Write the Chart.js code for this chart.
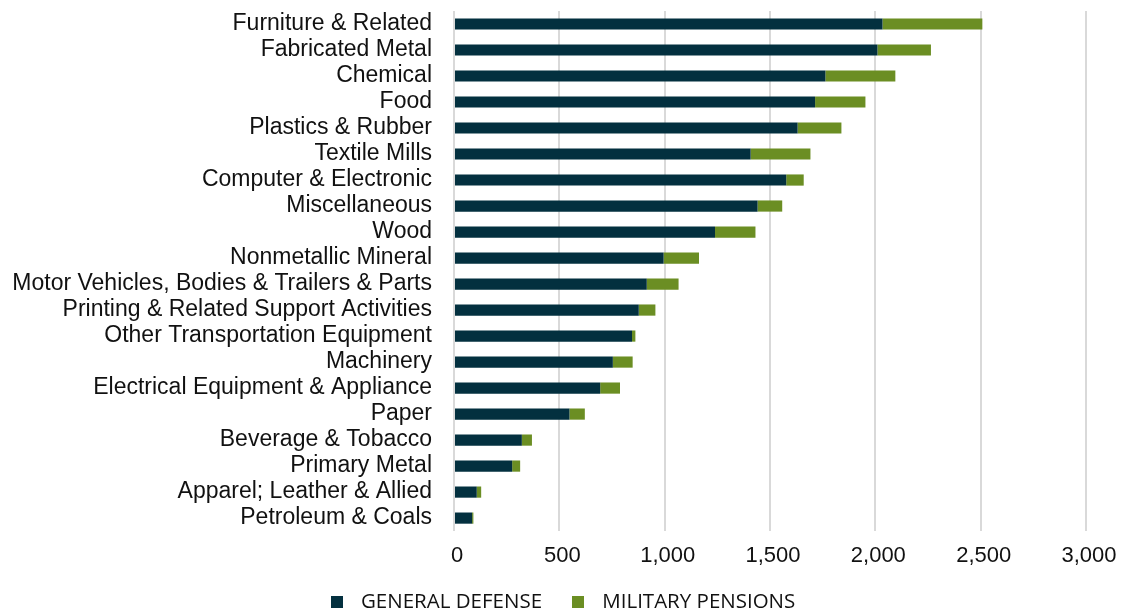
<!DOCTYPE html>
<html lang="en">
<head>
    <meta charset="UTF-8">
    <title>Defense by Industry</title>
    <script src="https://cdn.jsdelivr.net/npm/chart.js"></script>
    <style>
        html, body { margin: 0; padding: 0; background: #fff; }
        #wrap { width: 1129px; height: 612px; position: relative; }
    </style>
</head>
<body>
    <div id="wrap"><canvas id="chart"></canvas></div>
    <script>
        const industries = [
            'Furniture & Related', 'Fabricated Metal', 'Chemical', 'Food', 'Plastics & Rubber',
            'Textile Mills', 'Computer & Electronic', 'Miscellaneous', 'Wood', 'Nonmetallic Mineral',
            'Motor Vehicles, Bodies & Trailers & Parts', 'Printing & Related Support Activities',
            'Other Transportation Equipment', 'Machinery', 'Electrical Equipment & Appliance',
            'Paper', 'Beverage & Tobacco', 'Primary Metal', 'Apparel; Leather & Allied', 'Petroleum & Coals'
        ];
        const generalDefense = [2034, 2010, 1763, 1714, 1631, 1408, 1577, 1441, 1239, 995, 915, 877, 845, 754, 694, 548, 322, 276, 108, 86];
        const militaryPensions = [474, 254, 332, 239, 208, 284, 83, 117, 192, 168, 151, 79, 16, 94, 94, 73, 48, 38, 21, 6];

        const darkBlue = '#03303f';
        const olive = '#6b8e23';

        // small square used as legend marker (so the gap to the text can be wider)
        function squareMarker(color) {
            const c = document.createElement('canvas');
            c.width = 12;
            c.height = 12;
            const g = c.getContext('2d');
            g.fillStyle = color;
            g.fillRect(0, 0, 12, 12);
            return c;
        }
        const markers = [squareMarker(darkBlue), squareMarker(olive)];

        // nudge legend sideways to sit where the original puts it
        const legendShift = {
            id: 'legendShift',
            afterLayout(chart) {
                const lg = chart.legend;
                lg.left += 12;
                lg.right += 12;
            }
        };

        const ctx = document.getElementById('chart').getContext('2d');
        new Chart(ctx, {
            type: 'bar',
            data: {
                labels: industries,
                datasets: [
                    {
                        label: 'GENERAL DEFENSE',
                        data: generalDefense,
                        backgroundColor: darkBlue,
                        barPercentage: 0.43,
                        categoryPercentage: 1
                    },
                    {
                        label: 'MILITARY PENSIONS',
                        data: militaryPensions,
                        backgroundColor: olive,
                        barPercentage: 0.43,
                        categoryPercentage: 1
                    }
                ]
            },
            plugins: [legendShift],
            options: {
                indexAxis: 'y',
                responsive: true,
                maintainAspectRatio: false,
                animation: false,
                layout: { padding: { top: 11, right: 43, left: 8, bottom: -10 } },
                plugins: {
                    tooltip: { enabled: false },
                    legend: {
                        position: 'bottom',
                        labels: {
                            usePointStyle: true,
                            pointStyleWidth: 28,
                            boxHeight: 12,
                            padding: 22,
                            color: '#111',
                            font: { family: "'Open Sans', sans-serif", size: 20.5 },
                            generateLabels(chart) {
                                const items = Chart.defaults.plugins.legend.labels.generateLabels(chart);
                                items.forEach((it, i) => { it.pointStyle = markers[i]; });
                                return items;
                            }
                        }
                    }
                },
                scales: {
                    x: {
                        stacked: true,
                        min: 0,
                        max: 3000,
                        afterFit(scale) {
                            scale.height = 38.4;
                            scale.paddingLeft = 0;
                            scale.paddingRight = 0;
                        },
                        ticks: {
                            stepSize: 500,
                            color: '#111',
                            padding: 12,
                            labelOffset: 3,
                            font: { family: "'Liberation Sans', Arial, sans-serif", size: 22 }
                        },
                        grid: { color: '#d9d9d9', lineWidth: 2, drawTicks: false },
                        border: { display: false }
                    },
                    y: {
                        stacked: true,
                        afterFit(scale) {
                            scale.width = 446;
                            scale.paddingTop = 0;
                            scale.paddingBottom = 0;
                        },
                        ticks: {
                            autoSkip: false,
                            color: '#111',
                            padding: 22,
                            font: { family: "'Liberation Sans', Arial, sans-serif", size: 23 }
                        },
                        grid: { display: false, drawTicks: false },
                        border: { display: false }
                    }
                }
            }
        });
    </script>
</body>
</html>
